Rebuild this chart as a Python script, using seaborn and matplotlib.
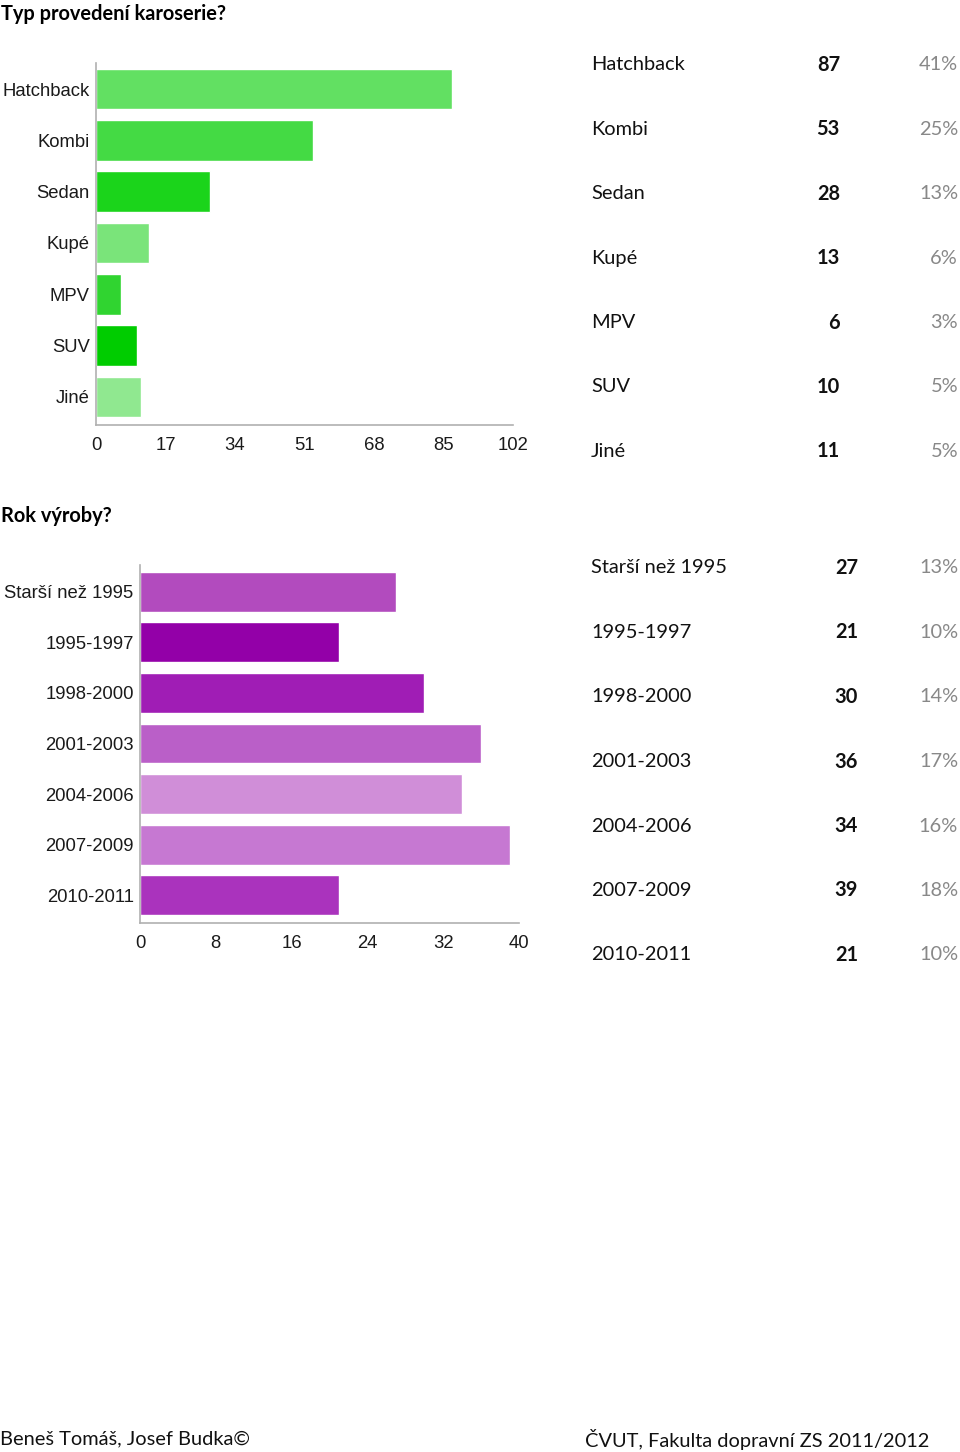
import matplotlib
matplotlib.use("Agg")
import matplotlib.pyplot as plt
import seaborn as sns
import pandas as pd

# --- data ---
body_types = ["Hatchback", "Kombi", "Sedan", "Kupé", "MPV", "SUV", "Jiné"]
body_counts = [87, 53, 28, 13, 6, 10, 11]
body_pct = ["41%", "25%", "13%", "6%", "3%", "5%", "5%"]
body_colors = ["#62e062", "#44da44", "#1bd41b", "#7ae47a", "#30d430", "#00cc00", "#90e890"]
body_ticks = [0, 17, 34, 51, 68, 85, 102]

years = ["Starší než 1995", "1995-1997", "1998-2000", "2001-2003",
         "2004-2006", "2007-2009", "2010-2011"]
year_counts = [27, 21, 30, 36, 34, 39, 21]
year_pct = ["13%", "10%", "14%", "17%", "16%", "18%", "10%"]
year_colors = ["#b24bbe", "#9300a8", "#a01db5", "#ba5fc8", "#d08ed8", "#c678d2", "#aa33bd"]
year_ticks = [0, 8, 16, 24, 32, 40]

W, H = 960, 1452
sns.set_style("white")
plt.rcParams["font.family"] = ["Liberation Sans", "DejaVu Sans"]

fig = plt.figure(figsize=(W / 100, H / 100), dpi=100)


def fx(px):
    return px / W


def fy(py):
    return 1 - py / H


def bar_chart(x0, x1, y_top, y_bot, cats, vals, colors, ticks, ylim):
    ax = fig.add_axes([fx(x0), fy(y_bot), fx(x1 - x0), (y_bot - y_top) / H])
    df = pd.DataFrame({"cat": cats, "val": vals})
    sns.barplot(data=df, x="val", y="cat", hue="cat", palette=colors,
                order=cats, legend=False, width=0.79, saturation=1, ax=ax)
    ax.set_xlim(ticks[0], ticks[-1])
    ax.set_ylim(*ylim)
    ax.set_xticks(ticks)
    ax.set_xlabel("")
    ax.set_ylabel("")
    for s in ["top", "right"]:
        ax.spines[s].set_visible(False)
    for s in ["left", "bottom"]:
        ax.spines[s].set_color("#b0b0b0")
        ax.spines[s].set_linewidth(1.2)
    ax.tick_params(axis="both", length=3.5, width=1, color="#b0b0b0",
                   labelsize=13.3, labelcolor="#1a1a1a", pad=1)
    ax.tick_params(axis="x", pad=5.5)
    return ax


bar_chart(96, 513, 63, 425, body_types, body_counts, body_colors,
          body_ticks, (6.55, -0.51))
bar_chart(140, 519, 565, 923, years, year_counts, year_colors,
          year_ticks, (6.55, -0.53))

FS = 14.4


def table(rows_y, cats, vals, pcts, count_x):
    for y, c, v, p in zip(rows_y, cats, vals, pcts):
        fig.text(fx(591), fy(y + 2), c, fontsize=FS, family="Lato",
                 color="#111111", va="center", ha="left")
        fig.text(fx(count_x), fy(y + 2), str(v), fontsize=FS, family="Lato",
                 fontweight="bold", color="#111111", va="center", ha="right")
        fig.text(fx(958), fy(y + 2), p, fontsize=FS, family="Lato",
                 color="#888888", va="center", ha="right")


table([63 + i * 64.4 for i in range(7)], body_types, body_counts, body_pct, 840)
table([566 + i * 64.5 for i in range(7)], years, year_counts, year_pct, 858)

fig.text(fx(1), fy(14), "Typ provedení karoserie?", fontsize=FS, family="Lato",
         fontweight="bold", color="#000000", va="center", ha="left")
fig.text(fx(1), fy(516), "Rok výroby?", fontsize=FS, family="Lato",
         fontweight="bold", color="#000000", va="center", ha="left")

fig.text(fx(0), fy(1439), "Beneš Tomáš, Josef Budka©", fontsize=FS, family="Lato",
         color="#111111", va="center", ha="left")
fig.text(fx(585), fy(1439), "ČVUT, Fakulta dopravní ZS 2011/2012", fontsize=FS,
         family="Lato", color="#111111", va="center", ha="left")

fig.savefig("out.png", dpi=100, facecolor="white")
